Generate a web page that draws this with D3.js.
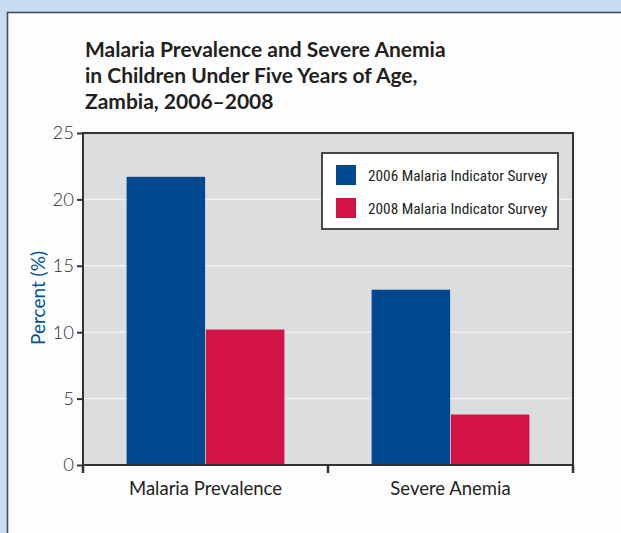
<!DOCTYPE html>
<html>
<head>
<meta charset="utf-8">
<script src="https://cdn.jsdelivr.net/npm/d3@7"></script>
<style>
  html, body { margin: 0; padding: 0; background: #c6dcf2; }
  #chart { width: 621px; height: 533px; }
</style>
</head>
<body>
<div id="chart"></div>
<script>
// chart data
const categories = ["Malaria Prevalence", "Severe Anemia"];
const seriesNames = ["2006 Malaria Indicator Survey", "2008 Malaria Indicator Survey"];
const values2006 = [21.7, 13.2];
const values2008 = [10.2, 3.8];
const yTicks = [0, 5, 10, 15, 20, 25];
const titleLines = [
    "Malaria Prevalence and Severe Anemia",
    "in Children Under Five Years of Age,",
    "Zambia, 2006\u20132008"
];
const colors = ["#004990", "#d31245"];

const W = 621, H = 533;
const m = { top: 133, right: 48, bottom: 68, left: 83 };
const w = W - m.left - m.right;
const h = H - m.top - m.bottom;

const root = d3.select("#chart").append("svg")
    .attr("width", W).attr("height", H);

// white panel
root.append("rect")
    .attr("x", 7.5).attr("y", 12.5).attr("width", W).attr("height", H)
    .attr("fill", "#fdfdfd").attr("stroke", "#4a4d52").attr("stroke-width", 1.6);

// title
root.append("g").selectAll("text")
    .data(titleLines).enter().append("text")
    .attr("x", 85).attr("y", (d, i) => 57 + i * 26)
    .attr("font-family", "Lato, sans-serif").attr("font-weight", "bold")
    .attr("font-size", 21).attr("fill", "#231f20")
    .text(d => d);

const svg = root.append("g").attr("transform", `translate(${m.left},${m.top})`);

const x0 = d3.scaleBand().domain(categories).range([0, w]).paddingInner(0).paddingOuter(0);
const x1 = d3.scaleBand().domain(seriesNames).range([0, x0.bandwidth()]).paddingInner(0.01).paddingOuter(0.55);
const y = d3.scaleLinear().domain([0, 25]).range([h, 0]);

// plot background
svg.append("rect").attr("width", w).attr("height", h).attr("fill", "#dcdddf");

// gridlines
svg.selectAll(".grid").data(yTicks.filter(t => t > 0 && t < 25)).enter().append("line")
    .attr("x1", 0).attr("x2", w)
    .attr("y1", d => y(d)).attr("y2", d => y(d))
    .attr("stroke", "#f2f2f2").attr("stroke-width", 1.5);

// bars
const rows = categories.map((c, i) => ({ cat: c, vals: [values2006[i], values2008[i]] }));
const grp = svg.selectAll(".grp").data(rows).enter().append("g")
    .attr("transform", d => `translate(${x0(d.cat)},0)`);
grp.selectAll("rect").data(d => d.vals.map((v, j) => ({ s: seriesNames[j], v: v, j: j })))
    .enter().append("rect")
    .attr("x", d => x1(d.s)).attr("width", x1.bandwidth())
    .attr("y", d => y(d.v)).attr("height", d => h - y(d.v))
    .attr("fill", d => colors[d.j]);

// frame
svg.append("rect").attr("width", w).attr("height", h)
    .attr("fill", "none").attr("stroke", "#333").attr("stroke-width", 2);

// y axis
const yAx = svg.append("g").call(d3.axisLeft(y).tickValues(yTicks).tickSize(6).tickPadding(3));
yAx.select(".domain").remove();
yAx.selectAll("line").attr("stroke", "#333").attr("stroke-width", 2);
yAx.selectAll("text").attr("font-family", "Lato, sans-serif").attr("font-weight", 300)
    .attr("font-size", 18.5).attr("fill", "#333");

// x axis: ticks on the band boundaries
const xAx = svg.append("g").attr("transform", `translate(0,${h})`)
    .call(d3.axisBottom(x0).tickSize(0).tickPadding(17));
xAx.select(".domain").remove();
xAx.selectAll("text").attr("font-family", "Lato, sans-serif")
    .attr("font-size", 18.5).attr("fill", "#231f20");
const bounds = [0, x0(categories[1]), w];
svg.selectAll(".xt").data(bounds).enter().append("line")
    .attr("x1", d => d).attr("x2", d => d)
    .attr("y1", h).attr("y2", h + 8)
    .attr("stroke", "#333").attr("stroke-width", 2.5);

// y label
root.append("text")
    .attr("transform", `translate(45,298) rotate(-90)`)
    .attr("text-anchor", "middle")
    .attr("font-family", "Lato, sans-serif").attr("font-size", 19)
    .attr("fill", "#00539b").text("Percent (%)");

// legend
const lg = root.append("g").attr("transform", "translate(322,153)");
lg.append("rect").attr("width", 236).attr("height", 76)
    .attr("fill", "#fff").attr("stroke", "#231f20").attr("stroke-width", 1.6);
const li = lg.selectAll(".li").data(seriesNames).enter().append("g")
    .attr("transform", (d, i) => `translate(14,${12 + i * 33})`);
li.append("rect").attr("width", 20).attr("height", 20).attr("fill", (d, i) => colors[i]);
li.append("text").attr("x", 32).attr("y", 16)
    .attr("font-family", "'Liberation Sans Narrow', 'Roboto Condensed', sans-serif")
    .attr("font-size", 15.3).attr("fill", "#231f20")
    .text(d => d);
</script>
</body>
</html>
